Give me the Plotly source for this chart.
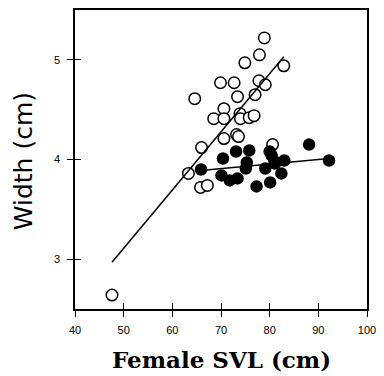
import plotly.graph_objects as go

# Open circles (one group)
open_svl = [78.9, 77.9, 74.9, 82.9, 69.9, 72.7, 77.8, 79.1, 73.4, 77.0, 64.6, 70.6,
            68.5, 70.6, 73.9, 74.0, 75.8, 76.8, 73.2, 73.6, 70.6, 66.0, 80.6, 63.3,
            65.8, 67.2, 47.6]
open_width = [5.22, 5.05, 4.97, 4.94, 4.77, 4.77, 4.79, 4.75, 4.63, 4.65, 4.61, 4.51,
              4.41, 4.41, 4.46, 4.41, 4.42, 4.44, 4.25, 4.23, 4.21, 4.12, 4.15, 3.86,
              3.72, 3.74, 2.64]

# Filled circles (other group)
filled_svl = [65.9, 70.4, 70.1, 71.8, 73.4, 73.1, 75.8, 75.3, 75.1, 77.3, 79.1, 80.1,
              80.4, 81.1, 82.4, 83.0, 88.1, 92.2, 80.0, 81.0]
filled_width = [3.90, 4.01, 3.84, 3.79, 3.81, 4.08, 4.09, 3.97, 3.91, 3.73, 3.91, 3.77,
                4.04, 3.96, 3.86, 3.99, 4.15, 3.99, 4.08, 3.98]

# Regression line endpoints
open_fit_x = [47.6, 82.9]
open_fit_y = [2.97, 5.03]
filled_fit_x = [65.9, 92.2]
filled_fit_y = [3.89, 4.01]

x_ticks = [40, 50, 60, 70, 80, 90, 100]
y_ticks = [3, 4, 5]

fig = go.Figure()
fig.add_trace(go.Scatter(x=open_svl, y=open_width, mode="markers",
                         marker=dict(size=11.5, color="white", symbol="circle",
                                     line=dict(color="black", width=1.5)),
                         showlegend=False))
fig.add_trace(go.Scatter(x=filled_svl, y=filled_width, mode="markers",
                         marker=dict(size=12.5, color="black", line=dict(width=0)),
                         showlegend=False))
fig.add_trace(go.Scatter(x=open_fit_x, y=open_fit_y, mode="lines",
                         line=dict(color="black", width=1.5), showlegend=False))
fig.add_trace(go.Scatter(x=filled_fit_x, y=filled_fit_y, mode="lines",
                         line=dict(color="black", width=1.5), showlegend=False))

axis_common = dict(showgrid=False, zeroline=False, showline=True, linecolor="black",
                   linewidth=1.5, ticks="outside", ticklen=6, tickwidth=1.2,
                   tickcolor="black",
                   tickfont=dict(family="Liberation Sans, Arial", size=11, color="black"))

fig.update_layout(
    width=384, height=376,
    margin=dict(l=75, r=10, t=8, b=67),
    paper_bgcolor="white", plot_bgcolor="white",
    xaxis=dict(range=[40, 100], tickvals=x_ticks, mirror=True, ticklabelstandoff=4,
               **axis_common),
    yaxis=dict(range=[2.5, 5.5], tickvals=y_ticks, mirror=True, ticklabelstandoff=5,
               **axis_common),
    xaxis2=dict(overlaying="x", matches="x", range=[40, 100], tickvals=x_ticks,
                ticks="inside", ticklen=6, tickwidth=1.2, tickcolor="black",
                showticklabels=False, showgrid=False, zeroline=False, side="bottom",
                anchor="y"),
    yaxis2=dict(overlaying="y", matches="y", range=[2.5, 5.5], tickvals=y_ticks,
                ticks="inside", ticklen=6, tickwidth=1.2, tickcolor="black",
                showticklabels=False, showgrid=False, zeroline=False, side="left",
                anchor="x"),
    annotations=[
        dict(text="Female SVL (cm)", xref="paper", yref="paper", x=0.5, y=-0.17,
             xanchor="center", yanchor="middle", showarrow=False,
             font=dict(family="DejaVu Serif", size=23, color="black", weight="bold")),
        dict(text="Width (cm)", xref="paper", yref="paper", x=-0.174, y=0.495,
             xanchor="center", yanchor="middle", textangle=-90, showarrow=False,
             font=dict(family="DejaVu Sans", size=25, color="black")),
    ],
)
# invisible trace to activate the secondary axes (inside half of crossing ticks)
fig.add_trace(go.Scatter(x=[x_ticks[0]], y=[y_ticks[0]], xaxis="x2", yaxis="y2",
                         mode="markers", marker=dict(opacity=0), hoverinfo="skip",
                         showlegend=False))

fig.write_html("out.html")
